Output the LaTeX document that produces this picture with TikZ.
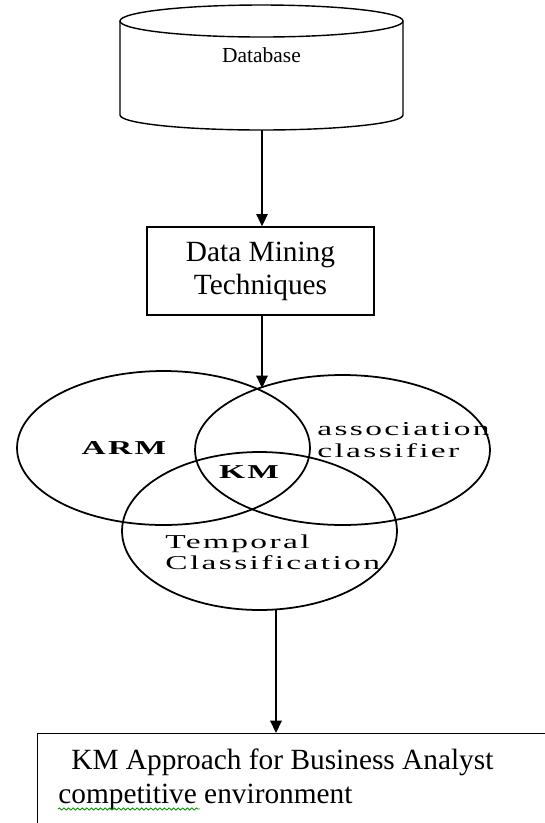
\documentclass[tikz,border=0pt]{standalone}
\usepackage{fontspec}
\setmainfont{Liberation Serif}
\newfontfamily\vennfont[FakeStretch=1.7,LetterSpace=12]{Liberation Serif}
\usetikzlibrary{arrows.meta,shapes.geometric,decorations.pathmorphing}

\begin{document}
\begin{tikzpicture}[x=0.02cm,y=-0.02cm,
    line/.style={line width=0.8pt},
    arr/.style={line,-{Triangle[length=7pt,width=6.5pt]}},
    venn/.style={draw,line width=1pt,ellipse,inner sep=0pt},
    vlabel/.style={font=\vennfont\fontsize{11.2}{12.2}\selectfont,inner sep=0pt},
    bigtext/.style={font=\fontsize{16.7}{19.8}\selectfont}]
    \clip (0,0) rectangle (545,823);
    \draw[line] (261.5,21) ellipse [x radius=141.5,y radius=16];
    \draw[line] (120,21) -- (120,115) arc [start angle=180,end angle=0,x radius=141.5,y radius=15] -- (403,21);
    \node[font=\fontsize{12.2}{14}\selectfont] (dblabel) at (261.5,55) {Database};
    \coordinate (dbbot) at (262,130);
    \node[draw,line,align=center,minimum width=4.54cm,minimum height=1.76cm,inner sep=0pt,font=\fontsize{16.7}{18.7}\selectfont] (dm) at (260.5,271) {Data Mining\\Techniques};
    \node[venn,minimum width=5.86cm,minimum height=3.08cm] (arm) at (163.5,448) {};
    \node[venn,minimum width=5.9cm,minimum height=3cm] (assoc) at (342.5,450) {};
    \node[venn,minimum width=5.5cm,minimum height=3.16cm] (temp) at (259.5,531) {};
    \node[vlabel,font=\vennfont\bfseries\fontsize{11.2}{12.2}\selectfont] (armlabel) at (124,448) {ARM};
    \node[vlabel,font=\vennfont\bfseries\fontsize{11.2}{12.2}\selectfont] (kmlabel) at (249,472) {KM};
    \node[vlabel,align=left,anchor=west] (assoclabel) at (317,440) {association\\classifier};
    \node[vlabel,align=left,anchor=west] (templabel) at (165,552.5) {Temporal\\Classification};
    \node[draw,line,anchor=north west,minimum width=12cm,minimum height=3cm] (kmbox) at (37,733) {};
    \node[bigtext,anchor=north west,align=left,inner xsep=0.42cm,inner ysep=0.3cm] (kmtext) at (kmbox.north west) {\hspace*{0.26cm}KM Approach for Business Analyst\\competitive environment};
    \coordinate (vtop) at (262,388);
    \coordinate (vbot) at (276,610);
    \draw[arr] (dbbot) -- (dbbot |- dm.north);
    \draw[arr] (dbbot |- dm.south) -- (vtop);
    \draw[arr] (vbot) -- (vbot |- kmbox.north);
    \draw[green!60!black,line width=0.5pt,decorate,decoration={snake,amplitude=0.6pt,segment length=2.6pt}] (58,809) -- (200,809);
\end{tikzpicture}
\end{document}
